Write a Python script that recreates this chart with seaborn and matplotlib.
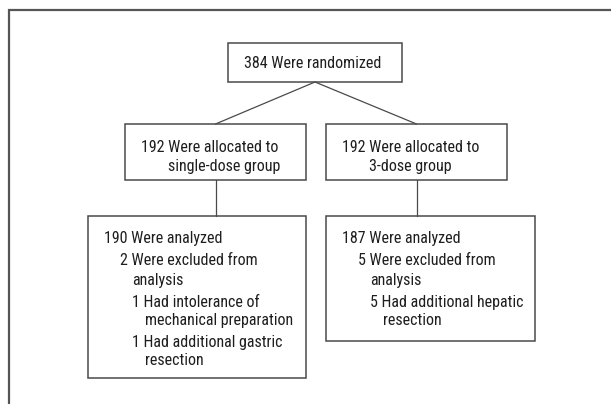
import seaborn as sns
import matplotlib.pyplot as plt
from matplotlib import font_manager
from matplotlib.patches import Rectangle

# Trial flow numbers
n_randomized = 384
groups = ['single-dose group', '3-dose group']
n_allocated = [192, 192]
n_analyzed = [190, 187]
n_excluded = [2, 5]
exclusion_reasons = [
    [(1, 'Had intolerance of', 'mechanical preparation'),
     (1, 'Had additional gastric', 'resection')],
    [(5, 'Had additional hepatic', 'resection')],
]

# Layout in pixel units (x0, y0, x1, y1)
top_box = (228, 43, 402, 82)
alloc_boxes = [(125, 124, 306, 180), (326, 124, 507, 180)]
result_boxes = [(88, 216, 306, 378), (326, 216, 535, 341)]

sns.set_theme(style='white')
available = {f.name for f in font_manager.fontManager.ttflist}
prefs = ['Nimbus Sans Narrow', 'Liberation Sans Narrow', 'Arial Narrow',
         'Roboto Condensed', 'Archivo Narrow', 'Barlow Semi Condensed',
         'Asap Condensed', 'Liberation Sans']
family = next(f for f in prefs if f in available)
plt.rcParams['font.family'] = [family, 'DejaVu Sans']

fig = plt.figure(figsize=(6.11, 4.04), dpi=100)
ax = fig.add_axes([0, 0, 1, 1])
ax.set_xlim(0, 611)
ax.set_ylim(404, 0)
ax.axis('off')

line_col = '#4a4a4a'
text_col = '#1e1e1e'

# pick a font size so the title line spans about 137 px like the reference
probe = ax.text(0, 0, f'{n_randomized} Were randomized', fontsize=12)
fig.canvas.draw()
w = probe.get_window_extent().width
probe.remove()
fs = 12 * 137 / w

# outer frame (only top and left edges visible)
ax.plot([9, 9, 611], [404, 10, 10], color='#555555', lw=1.6, solid_joinstyle='miter')


def draw_box(b):
    x0, y0, x1, y1 = b
    ax.add_patch(Rectangle((x0, y0), x1 - x0, y1 - y0, fill=False,
                           edgecolor=line_col, lw=1.1))


for b in [top_box] + alloc_boxes + result_boxes:
    draw_box(b)

# connectors
cx_top = (top_box[0] + top_box[2]) / 2
for ab, rb in zip(alloc_boxes, result_boxes):
    cx = (ab[0] + ab[2]) / 2
    ax.plot([cx_top, cx], [top_box[3], ab[1]], color=line_col, lw=0.9)
    ax.plot([cx, cx], [ab[3], rb[1]], color=line_col, lw=0.9)

# texts
ax.text(cx_top - 2, 68, f'{n_randomized} Were randomized', ha='center',
        va='baseline', fontsize=fs, color=text_col)

for ab, n, g in zip(alloc_boxes, n_allocated, groups):
    ax.text(ab[0] + 16, 152, f'{n} Were allocated to', ha='left',
            va='baseline', fontsize=fs, color=text_col)
    ax.text(ab[0] + 16 + 27, 171, g, ha='left', va='baseline',
            fontsize=fs, color=text_col)

for rb, na, ne, reasons in zip(result_boxes, n_analyzed, n_excluded, exclusion_reasons):
    x = rb[0] + 16
    y = 243
    ax.text(x, y, f'{na} Were analyzed', va='baseline', fontsize=fs, color=text_col)
    y += 22
    ax.text(x + 16, y, f'{ne} Were excluded from', va='baseline', fontsize=fs, color=text_col)
    y += 20
    ax.text(x + 28.5, y, 'analysis', va='baseline', fontsize=fs, color=text_col)
    for cnt, first, second in reasons:
        y += 22
        ax.text(x + 28.5, y, f'{cnt} {first}', va='baseline', fontsize=fs, color=text_col)
        y += 18
        ax.text(x + 41, y, second, va='baseline', fontsize=fs, color=text_col)

fig.savefig('out.png', dpi=100, facecolor='white')
